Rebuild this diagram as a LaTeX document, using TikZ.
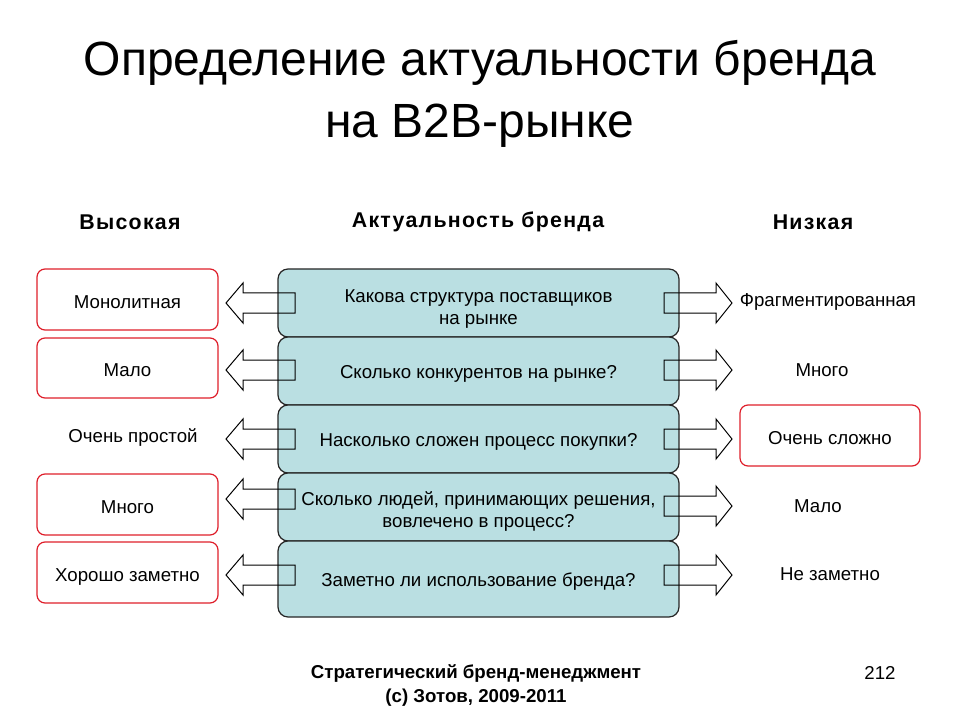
\documentclass[tikz,border=0pt]{standalone}
\usepackage{fontspec}
\setmainfont{Liberation Sans}
\newfontfamily\headfont[LetterSpace=6]{Liberation Sans}
\usetikzlibrary{positioning}
\definecolor{qteal}{RGB}{186,223,226}
\definecolor{lred}{RGB}{222,30,42}
\tikzstyle{titletext} = [anchor=base, inner sep=0pt, font=\fontsize{36}{36}\selectfont]
\tikzstyle{headtext} = [inner sep=0pt, font=\fontsize{16}{18}\headfont\bfseries]
\tikzstyle{question} = [rectangle, rounded corners=7.5pt, minimum width=300.75pt, align=center, draw=black!85, fill=qteal, line width=0.9pt, font=\fontsize{14}{16.5}\selectfont]
\tikzstyle{oneline} = [text height=13.5pt]
\tikzstyle{levelbox} = [rectangle, rounded corners=6pt, minimum width=135.75pt, align=center, draw=lred, line width=0.9pt, text height=13.5pt, text depth=0.5pt, font=\fontsize{14}{16}\selectfont]
\tikzstyle{leveltext} = [inner sep=0pt, font=\fontsize{14}{16}\selectfont]
\tikzstyle{blockarrow} = [draw=black, line width=0.75pt, line join=miter]
\tikzstyle{foottext} = [inner sep=0pt, align=center, font=\fontsize{14}{18}\selectfont\bfseries]

\begin{document}
\begin{tikzpicture}[x=0.75pt, y=-0.75pt]
\useasboundingbox (0,0) rectangle (960,720);
\node (title1) [titletext] at (480,76) {Определение актуальности бренда};
\node (title2) [titletext] at (480,138) {на B2B-рынке};
\node (high) [headtext] at (130,222) {Высокая};
\node (relevance) [headtext] at (478,222) {Актуальность бренда};
\node (low) [headtext] at (813,222) {Низкая};
% questions
\node (q1) [question, minimum height=51pt] at (478.5,303) {\rule{0pt}{18.5pt}Какова структура поставщиков\\на рынке};
\node (q2) [question, oneline, minimum height=51pt] at (478.5,371) {Сколько конкурентов на рынке?};
\node (q3) [question, oneline, minimum height=51pt] at (478.5,439) {Насколько сложен процесс покупки?};
\node (q4) [question, minimum height=51pt] at (478.5,507) {\rule{0pt}{17.5pt}Сколько людей, принимающих решения,\\вовлечено в процесс?};
\node (q5) [question, oneline, minimum height=57pt] at (478.5,579) {Заметно ли использование бренда?};
% high relevance
\node (h1) [levelbox, minimum height=45.75pt] at (127.5,299.5) {Монолитная};
\node (h2) [levelbox, minimum height=45pt] at (127.5,368) {Мало};
\node (h3) [leveltext] at (133,438) {Очень простой};
\node (h4) [levelbox, minimum height=45.75pt] at (127.5,504.5) {Много};
\node (h5) [levelbox, minimum height=45.75pt] at (127.5,572.5) {Хорошо заметно};
% low relevance
\node (l1) [leveltext] at (828,302) {Фрагментированная};
\node (l2) [leveltext] at (822,370) {Много};
\node (l3) [levelbox, minimum height=45.75pt, minimum width=135pt] at (830,435.5) {Очень сложно};
\node (l4) [leveltext] at (818,506) {Мало};
\node (l5) [leveltext] at (830,574) {Не заметно};
% arrows
\foreach \ly/\ry in {303/303, 370/370, 439/439, 499/506, 575/575} {
  \draw [blockarrow] (295,\ly-10) -- (243,\ly-10) -- (243,\ly-20) -- (226,\ly) -- (243,\ly+20) -- (243,\ly+10) -- (295,\ly+10) -- cycle;
  \draw [blockarrow] (664,\ry-10) -- (716,\ry-10) -- (716,\ry-20) -- (732,\ry) -- (716,\ry+20) -- (716,\ry+10) -- (664,\ry+10) -- cycle;
}
\node (footer) [foottext] at (476,685) {Стратегический бренд-менеджмент\\(с) Зотов, 2009-2011};
\node (page) [leveltext] at (880,673) {212};
\end{tikzpicture}
\end{document}
